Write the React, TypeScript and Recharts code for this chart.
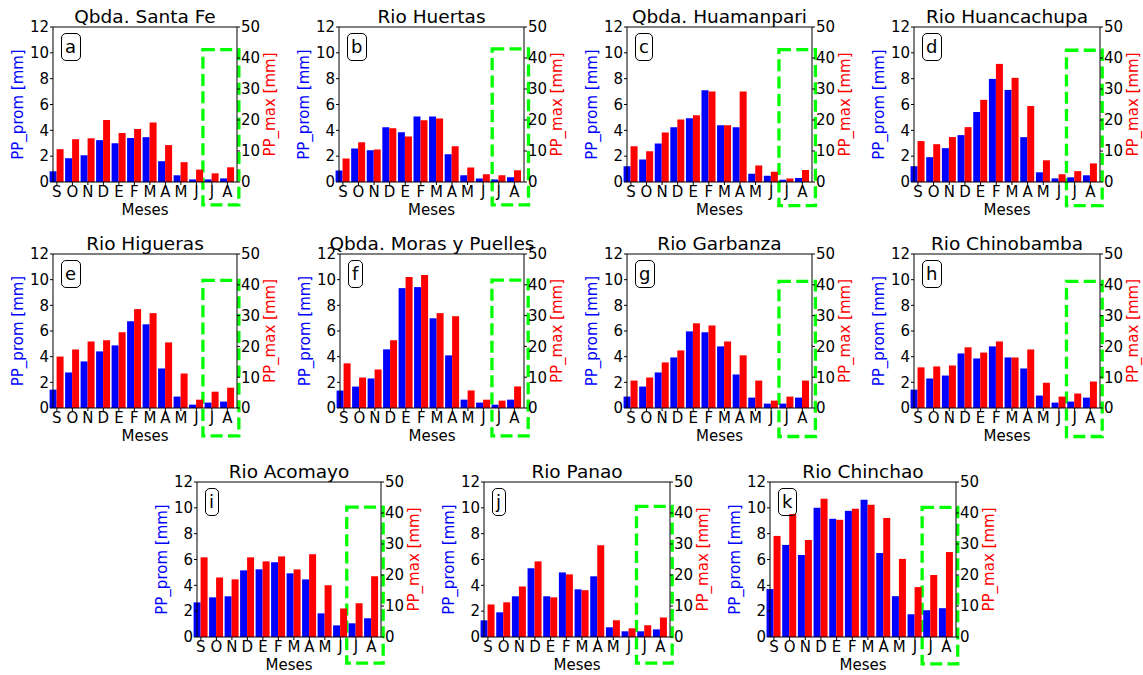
import React from "react";
import { ComposedChart, Bar, XAxis, YAxis, ReferenceLine, ReferenceArea } from "recharts";

const MESES = ["S", "O", "N", "D", "E", "F", "M", "A", "M", "J", "J", "A"];
const TICKS_PROM = [0, 2, 4, 6, 8, 10, 12];
const TICKS_MAX = [0, 10, 20, 30, 40, 50];

// PP_prom (eje izq, mm) y PP_max (eje der, mm) por estacion, Sep..Ago
const PROM_SANTA_FE = [0.83, 1.84, 2.07, 3.24, 3.0, 3.4, 3.47, 1.61, 0.52, 0.2, 0.2, 0.28];
const MAX_SANTA_FE = [10.6, 13.8, 14.1, 20.0, 15.8, 17.1, 19.2, 11.9, 6.4, 4.0, 2.8, 4.75];

const PROM_HUERTAS = [0.9, 2.6, 2.45, 4.23, 3.85, 5.08, 5.08, 2.14, 0.52, 0.28, 0.2, 0.36];
const MAX_HUERTAS = [7.6, 12.8, 10.5, 17.3, 14.7, 19.9, 20.5, 11.5, 4.7, 2.5, 2.15, 3.76];

const PROM_HUAMANPARI = [1.21, 1.75, 2.99, 4.23, 4.93, 7.1, 4.39, 4.23, 0.64, 0.48, 0.17, 0.31];
const MAX_HUAMANPARI = [11.5, 9.9, 16.0, 20.2, 21.5, 29.2, 18.3, 29.2, 5.3, 3.3, 1.1, 3.9];

const PROM_HUANCACHUPA = [1.22, 1.92, 2.62, 3.63, 5.42, 7.98, 7.13, 3.47, 0.75, 0.28, 0.36, 0.52];
const MAX_HUANCACHUPA = [13.2, 12.2, 14.5, 17.7, 26.5, 38.1, 33.6, 24.5, 7.0, 2.5, 3.5, 6.0];

const PROM_HIGUERAS = [1.43, 2.77, 3.63, 4.41, 4.88, 6.76, 6.52, 3.08, 0.89, 0.26, 0.42, 0.5];
const MAX_HIGUERAS = [16.7, 19.0, 21.6, 22.0, 24.6, 32.1, 30.8, 21.3, 11.2, 2.7, 5.3, 6.6];

const PROM_MORAS = [1.36, 1.67, 2.3, 4.57, 9.34, 9.42, 6.99, 4.1, 0.65, 0.42, 0.26, 0.65];
const MAX_MORAS = [14.5, 9.9, 12.5, 22.0, 42.5, 43.2, 30.8, 29.8, 5.7, 2.7, 2.4, 7.0];

const PROM_GARBANZA = [0.89, 1.67, 2.77, 3.94, 5.97, 5.9, 4.8, 2.61, 0.81, 0.34, 0.34, 0.81];
const MAX_GARBANZA = [8.9, 9.9, 14.8, 18.7, 27.5, 26.8, 21.6, 17.1, 8.9, 2.4, 3.7, 8.9];

const PROM_CHINOBAMBA = [1.43, 2.3, 2.53, 4.25, 3.86, 4.8, 3.94, 3.08, 0.97, 0.42, 0.5, 0.81];
const MAX_CHINOBAMBA = [13.2, 13.5, 13.8, 19.7, 18.0, 21.6, 16.4, 19.0, 8.2, 3.7, 4.7, 8.6];

const PROM_ACOMAYO = [2.68, 3.07, 3.15, 5.16, 5.24, 5.78, 4.93, 4.46, 1.83, 0.9, 1.06, 1.45];
const MAX_ACOMAYO = [25.7, 19.2, 18.6, 25.7, 24.4, 26.0, 21.8, 26.7, 16.7, 9.2, 10.9, 19.6];

const PROM_PANAO = [1.29, 1.91, 3.15, 5.32, 3.15, 5.0, 3.69, 4.7, 0.75, 0.44, 0.44, 0.59];
const MAX_PANAO = [10.5, 11.2, 16.3, 24.4, 12.8, 20.2, 15.1, 29.6, 5.4, 2.8, 3.8, 6.3];

const PROM_CHINCHAO = [3.71, 7.13, 6.35, 10.0, 9.15, 9.77, 10.63, 6.5, 3.16, 1.76, 2.07, 2.23];
const MAX_CHINCHAO = [32.6, 39.7, 31.3, 44.6, 37.8, 41.4, 42.7, 38.4, 25.2, 16.1, 20.0, 27.4];

const FONT = "'DejaVu Sans', sans-serif";
const AX_W = 40;
const X_H = 34;
const TOP = 10;
const SIDE = 12;
const BOTTOM = 8;
const XMIN = -0.25;
const XMAX = 11.62;

const panels = [
  { title: "Qbda. Santa Fe", tag: "a", prom: PROM_SANTA_FE, max: MAX_SANTA_FE, x: 53, y: 27, w: 184, h: 155, box: [9.42, 11.74, 10.25, -1.77] },
  { title: "Rio Huertas", tag: "b", prom: PROM_HUERTAS, max: MAX_HUERTAS, x: 339, y: 27, w: 185, h: 155, box: [9.58, 11.91, 10.3, -1.77] },
  { title: "Qbda. Huamanpari", tag: "c", prom: PROM_HUAMANPARI, max: MAX_HUAMANPARI, x: 627, y: 27, w: 185, h: 155, box: [9.5, 11.84, 10.25, -1.83] },
  { title: "Rio Huancachupa", tag: "d", prom: PROM_HUANCACHUPA, max: MAX_HUANCACHUPA, x: 914, y: 27, w: 186, h: 155, box: [9.48, 11.76, 10.2, -1.83] },
  { title: "Rio Higueras", tag: "e", prom: PROM_HIGUERAS, max: MAX_HIGUERAS, x: 53, y: 254, w: 184, h: 154, box: [9.42, 11.74, 9.94, -2.17] },
  { title: "Qbda. Moras y Puelles", tag: "f", prom: PROM_MORAS, max: MAX_MORAS, x: 340, y: 254, w: 184, h: 154, box: [9.55, 11.89, 9.96, -2.17] },
  { title: "Rio Garbanza", tag: "g", prom: PROM_GARBANZA, max: MAX_GARBANZA, x: 627, y: 254, w: 185, h: 154, box: [9.5, 11.84, 9.86, -2.22] },
  { title: "Rio Chinobamba", tag: "h", prom: PROM_CHINOBAMBA, max: MAX_CHINOBAMBA, x: 914, y: 254, w: 186, h: 154, box: [9.48, 11.76, 9.86, -2.22] },
  { title: "Rio Acomayo", tag: "i", prom: PROM_ACOMAYO, max: MAX_ACOMAYO, x: 197, y: 482, w: 184, h: 155, box: [9.41, 11.76, 10.06, -2.03] },
  { title: "Rio Panao", tag: "j", prom: PROM_PANAO, max: MAX_PANAO, x: 484, y: 482, w: 186, h: 155, box: [9.48, 11.76, 10.12, -2.03] },
  { title: "Rio Chinchao", tag: "k", prom: PROM_CHINCHAO, max: MAX_CHINCHAO, x: 770, y: 482, w: 186, h: 155, box: [9.46, 11.73, 10.04, -2.08] },
];

const tickStyle = { fill: "#000", fontSize: 15, fontFamily: FONT };

const Panel = ({ p }: { p: (typeof panels)[number] }) => {
  const data = MESES.map((mes, i) => ({ mes, pos: i, prom: p.prom[i], max: p.max[i] }));
  const band = p.w / (XMAX - XMIN);
  return (
    <>
      <div style={{ position: "absolute", left: p.x - AX_W - SIDE, top: p.y - TOP }}>
        <ComposedChart
          width={p.w + 2 * AX_W + 2 * SIDE}
          height={TOP + p.h + X_H + BOTTOM}
          data={data}
          margin={{ top: TOP, right: SIDE, bottom: BOTTOM, left: SIDE }}
          barGap={0}
          barCategoryGap="3%"
        >
          <XAxis
            dataKey="mes"
            interval={0}
            allowDuplicatedCategory
            padding={{ left: XMIN * band, right: (XMAX - 11.5) * band }}
            height={X_H}
            stroke="#000"
            tickSize={3}
            tickMargin={1}
            tick={tickStyle}
            label={{
              value: "Meses",
              position: "insideBottom",
              offset: 1,
              style: { fill: "#000", fontSize: 15, fontFamily: FONT },
            }}
          />
          <XAxis xAxisId="box" type="number" dataKey="pos" domain={[XMIN, XMAX]} allowDataOverflow hide />
          <YAxis
            yAxisId="l"
            domain={[0, 12]}
            ticks={TICKS_PROM}
            interval={0}
            allowDataOverflow
            width={AX_W}
            stroke="#000"
            tickSize={3}
            tickMargin={1}
            tick={tickStyle}
            label={{
              value: "PP_prom [mm]",
              angle: -90,
              position: "insideLeft",
              offset: 4.5,
              style: { fill: "#0000ff", fontSize: 15, fontFamily: FONT, textAnchor: "middle" },
            }}
          />
          <YAxis
            yAxisId="r"
            orientation="right"
            domain={[0, 50]}
            ticks={TICKS_MAX}
            interval={0}
            allowDataOverflow
            width={AX_W}
            stroke="#000"
            tickSize={3}
            tickMargin={1}
            tick={tickStyle}
            label={{
              value: "PP_max [mm]",
              angle: -90,
              position: "insideRight",
              offset: 7,
              style: { fill: "#ff0000", fontSize: 15, fontFamily: FONT, textAnchor: "middle" },
            }}
          />
          <Bar yAxisId="l" dataKey="prom" fill="#0000ff" isAnimationActive={false} />
          <Bar yAxisId="r" dataKey="max" fill="#ff0000" isAnimationActive={false} />
          <ReferenceLine yAxisId="l" y={12} stroke="#000" strokeWidth={1} />
          <ReferenceArea
            xAxisId="box"
            yAxisId="l"
            x1={p.box[0]}
            x2={p.box[1]}
            y1={p.box[2]}
            y2={p.box[3]}
            ifOverflow="visible"
            fill="none"
            stroke="#00ff00"
            strokeWidth={3.3}
            strokeDasharray="12 5.3"
          />
        </ComposedChart>
      </div>
      <div
        style={{
          position: "absolute",
          left: p.x + p.w / 2 - 200,
          width: 400,
          top: p.y - 19.5,
          textAlign: "center",
          fontFamily: FONT,
          fontSize: 18.5,
          lineHeight: 1,
          whiteSpace: "nowrap",
        }}
      >
        {p.title}
      </div>
      <div
        style={{
          position: "absolute",
          left: p.x + 7.5,
          top: p.y + 6,
          height: 28,
          boxSizing: "border-box",
          padding: "0 3.5px",
          border: "1.2px solid #000",
          borderRadius: 5,
          fontFamily: FONT,
          fontSize: 18,
          lineHeight: "25px",
        }}
      >
        {p.tag}
      </div>
    </>
  );
};

export default function App() {
  return (
    <div
      style={{
        position: "absolute",
        left: 0,
        top: 0,
        width: 1143,
        height: 675,
        background: "#fff",
        overflow: "hidden",
      }}
    >
      {panels.map((p) => (
        <Panel key={p.tag} p={p} />
      ))}
    </div>
  );
}
